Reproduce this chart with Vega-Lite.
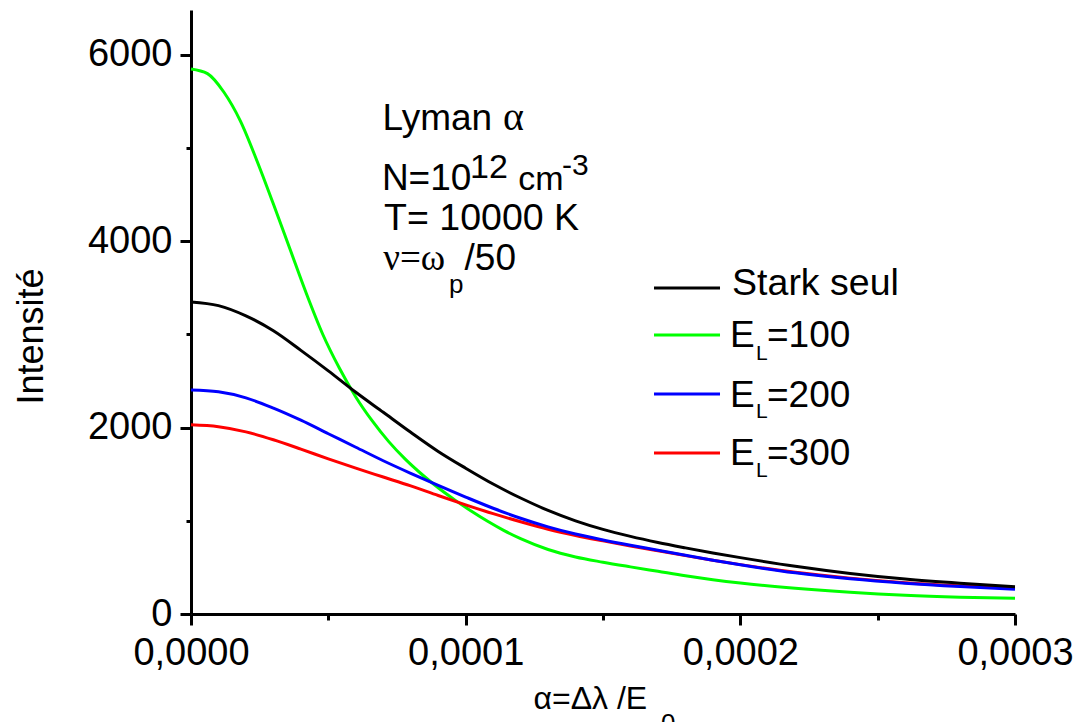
{
  "$schema": "https://vega.github.io/schema/vega-lite/v6.json",
  "width": 824,
  "height": 604,
  "autosize": {"type": "none"},
  "padding": {"left": 191, "top": 10, "right": 61, "bottom": 108},
  "background": "white",
  "config": {"view": {"stroke": null}, "font": "Liberation Sans", "text": {"font": "Liberation Sans", "color": "black"}},
  "datasets": {
    "curves": [
      {"s": "Stark seul", "x": 0.0, "y": 3350}, {"s": "Stark seul", "x": 0.00001, "y": 3310}, {"s": "Stark seul", "x": 0.00002, "y": 3200}, {"s": "Stark seul", "x": 0.00003, "y": 3040}, {"s": "Stark seul", "x": 0.00004, "y": 2830}, {"s": "Stark seul", "x": 0.00005, "y": 2610}, {"s": "Stark seul", "x": 0.00006, "y": 2380}, {"s": "Stark seul", "x": 0.00007, "y": 2165}, {"s": "Stark seul", "x": 0.00008, "y": 1950}, {"s": "Stark seul", "x": 0.00009, "y": 1745}, {"s": "Stark seul", "x": 0.0001, "y": 1565}, {"s": "Stark seul", "x": 0.00011, "y": 1395}, {"s": "Stark seul", "x": 0.00012, "y": 1245}, {"s": "Stark seul", "x": 0.00013, "y": 1112}, {"s": "Stark seul", "x": 0.00014, "y": 1000}, {"s": "Stark seul", "x": 0.00015, "y": 908}, {"s": "Stark seul", "x": 0.00016, "y": 833}, {"s": "Stark seul", "x": 0.00017, "y": 768}, {"s": "Stark seul", "x": 0.00018, "y": 710}, {"s": "Stark seul", "x": 0.00019, "y": 655}, {"s": "Stark seul", "x": 0.0002, "y": 605}, {"s": "Stark seul", "x": 0.00022, "y": 512}, {"s": "Stark seul", "x": 0.00024, "y": 435}, {"s": "Stark seul", "x": 0.00026, "y": 375}, {"s": "Stark seul", "x": 0.00028, "y": 330}, {"s": "Stark seul", "x": 0.0003, "y": 293},
      {"s": "EL=100", "x": 0.0, "y": 5850}, {"s": "EL=100", "x": 0.000006, "y": 5800}, {"s": "EL=100", "x": 0.000012, "y": 5600}, {"s": "EL=100", "x": 0.000018, "y": 5290}, {"s": "EL=100", "x": 0.000024, "y": 4865}, {"s": "EL=100", "x": 0.00003, "y": 4400}, {"s": "EL=100", "x": 0.000036, "y": 3920}, {"s": "EL=100", "x": 0.000042, "y": 3440}, {"s": "EL=100", "x": 0.000048, "y": 3000}, {"s": "EL=100", "x": 0.000054, "y": 2640}, {"s": "EL=100", "x": 0.00006, "y": 2330}, {"s": "EL=100", "x": 0.000066, "y": 2072}, {"s": "EL=100", "x": 0.000072, "y": 1850}, {"s": "EL=100", "x": 0.000078, "y": 1662}, {"s": "EL=100", "x": 0.000084, "y": 1500}, {"s": "EL=100", "x": 0.00009, "y": 1355}, {"s": "EL=100", "x": 0.000096, "y": 1225}, {"s": "EL=100", "x": 0.000102, "y": 1105}, {"s": "EL=100", "x": 0.000108, "y": 995}, {"s": "EL=100", "x": 0.000114, "y": 895}, {"s": "EL=100", "x": 0.00012, "y": 808}, {"s": "EL=100", "x": 0.00013, "y": 692}, {"s": "EL=100", "x": 0.00014, "y": 612}, {"s": "EL=100", "x": 0.00015, "y": 556}, {"s": "EL=100", "x": 0.00016, "y": 506}, {"s": "EL=100", "x": 0.00017, "y": 458}, {"s": "EL=100", "x": 0.00018, "y": 410}, {"s": "EL=100", "x": 0.00019, "y": 368}, {"s": "EL=100", "x": 0.0002, "y": 332}, {"s": "EL=100", "x": 0.00022, "y": 276}, {"s": "EL=100", "x": 0.00024, "y": 233}, {"s": "EL=100", "x": 0.00026, "y": 201}, {"s": "EL=100", "x": 0.00028, "y": 181}, {"s": "EL=100", "x": 0.0003, "y": 169},
      {"s": "EL=200", "x": 0.0, "y": 2405}, {"s": "EL=200", "x": 0.00001, "y": 2385}, {"s": "EL=200", "x": 0.00002, "y": 2320}, {"s": "EL=200", "x": 0.00003, "y": 2210}, {"s": "EL=200", "x": 0.00004, "y": 2080}, {"s": "EL=200", "x": 0.00005, "y": 1935}, {"s": "EL=200", "x": 0.00006, "y": 1790}, {"s": "EL=200", "x": 0.00007, "y": 1645}, {"s": "EL=200", "x": 0.00008, "y": 1510}, {"s": "EL=200", "x": 0.00009, "y": 1380}, {"s": "EL=200", "x": 0.0001, "y": 1255}, {"s": "EL=200", "x": 0.00011, "y": 1135}, {"s": "EL=200", "x": 0.00012, "y": 1028}, {"s": "EL=200", "x": 0.00013, "y": 935}, {"s": "EL=200", "x": 0.00014, "y": 858}, {"s": "EL=200", "x": 0.00015, "y": 795}, {"s": "EL=200", "x": 0.00016, "y": 738}, {"s": "EL=200", "x": 0.00017, "y": 685}, {"s": "EL=200", "x": 0.00018, "y": 630}, {"s": "EL=200", "x": 0.00019, "y": 577}, {"s": "EL=200", "x": 0.0002, "y": 528}, {"s": "EL=200", "x": 0.00022, "y": 442}, {"s": "EL=200", "x": 0.00024, "y": 378}, {"s": "EL=200", "x": 0.00026, "y": 330}, {"s": "EL=200", "x": 0.00028, "y": 294}, {"s": "EL=200", "x": 0.0003, "y": 265},
      {"s": "EL=300", "x": 0.0, "y": 2030}, {"s": "EL=300", "x": 0.00001, "y": 2010}, {"s": "EL=300", "x": 0.00002, "y": 1955}, {"s": "EL=300", "x": 0.00003, "y": 1870}, {"s": "EL=300", "x": 0.00004, "y": 1770}, {"s": "EL=300", "x": 0.00005, "y": 1665}, {"s": "EL=300", "x": 0.00006, "y": 1565}, {"s": "EL=300", "x": 0.00007, "y": 1470}, {"s": "EL=300", "x": 0.00008, "y": 1375}, {"s": "EL=300", "x": 0.00009, "y": 1272}, {"s": "EL=300", "x": 0.0001, "y": 1172}, {"s": "EL=300", "x": 0.00011, "y": 1077}, {"s": "EL=300", "x": 0.00012, "y": 990}, {"s": "EL=300", "x": 0.00013, "y": 910}, {"s": "EL=300", "x": 0.00014, "y": 843}, {"s": "EL=300", "x": 0.00015, "y": 785}, {"s": "EL=300", "x": 0.00016, "y": 730}, {"s": "EL=300", "x": 0.00017, "y": 678}, {"s": "EL=300", "x": 0.00018, "y": 627}, {"s": "EL=300", "x": 0.00019, "y": 577}, {"s": "EL=300", "x": 0.0002, "y": 530}, {"s": "EL=300", "x": 0.00022, "y": 447}, {"s": "EL=300", "x": 0.00024, "y": 385}, {"s": "EL=300", "x": 0.00026, "y": 336}, {"s": "EL=300", "x": 0.00028, "y": 302}, {"s": "EL=300", "x": 0.0003, "y": 275}
    ]
  },
  "layer": [
    {
      "data": {"name": "curves"},
      "transform": [{"filter": "datum.s == 'EL=100'"}],
      "mark": {"type": "line", "strokeWidth": 3, "interpolate": "monotone"},
      "encoding": {
        "x": {"field": "x", "type": "quantitative", "scale": {"domain": [0, 0.0003], "nice": false, "zero": false},
          "axis": {"values": [0, 0.00005, 0.0001, 0.00015, 0.0002, 0.00025, 0.0003],
            "labelExpr": "round(datum.value*100000) % 10 == 0 ? replace(format(datum.value, '.4f'), '.', ',') : ''",
            "grid": false, "domainColor": "black", "domainWidth": 3, "tickColor": "black", "tickWidth": 3,
            "tickSize": {"condition": {"test": "round(datum.value*100000) % 10 != 0", "value": 6}, "value": 11},
            "labelFont": "Liberation Sans", "labelFontSize": 38, "labelColor": "black", "labelPadding": 9,
            "labelFlush": false, "labelOverlap": false, "labelBound": false,
            "title": "α=Δλ /E", "titleFont": "Liberation Sans", "titleFontSize": 32, "titleFontWeight": "normal", "titleColor": "black",
            "titleAlign": "left", "titleBaseline": "alphabetic", "titleX": 342, "titleY": 94}},
        "y": {"field": "y", "type": "quantitative", "scale": {"domain": [0, 6483], "nice": false},
          "axis": {"values": [0, 1000, 2000, 3000, 4000, 5000, 6000],
            "labelExpr": "datum.value % 2000 == 0 ? '' + datum.value : ''",
            "grid": false, "domainColor": "black", "domainWidth": 3, "tickColor": "black", "tickWidth": 3,
            "tickSize": {"condition": {"test": "datum.value % 2000 != 0", "value": 5}, "value": 11},
            "labelFont": "Liberation Sans", "labelFontSize": 38, "labelColor": "black", "labelPadding": 8,
            "labelFlush": false, "labelOverlap": false, "labelBound": false,
            "title": "Intensité", "titleFont": "Liberation Sans", "titleFontSize": 36, "titleFontWeight": "normal", "titleColor": "black",
            "titleAngle": -90, "titleAlign": "center", "titleBaseline": "alphabetic", "titleX": -149, "titleY": 326}},
        "color": {"field": "s", "type": "nominal", "scale": {"domain": ["Stark seul", "EL=100", "EL=200", "EL=300"], "range": ["#000000", "#00ff00", "#0000ff", "#ff0000"]}, "legend": null}
      }
    },
    {
      "data": {"name": "curves"},
      "transform": [{"filter": "datum.s == 'EL=300'"}],
      "mark": {"type": "line", "strokeWidth": 3, "interpolate": "monotone"},
      "encoding": {"x": {"field": "x", "type": "quantitative"}, "y": {"field": "y", "type": "quantitative"}, "color": {"field": "s", "type": "nominal", "legend": null}}
    },
    {
      "data": {"name": "curves"},
      "transform": [{"filter": "datum.s == 'EL=200'"}],
      "mark": {"type": "line", "strokeWidth": 3, "interpolate": "monotone"},
      "encoding": {"x": {"field": "x", "type": "quantitative"}, "y": {"field": "y", "type": "quantitative"}, "color": {"field": "s", "type": "nominal", "legend": null}}
    },
    {
      "data": {"name": "curves"},
      "transform": [{"filter": "datum.s == 'Stark seul'"}],
      "mark": {"type": "line", "strokeWidth": 3, "interpolate": "monotone"},
      "encoding": {"x": {"field": "x", "type": "quantitative"}, "y": {"field": "y", "type": "quantitative"}, "color": {"field": "s", "type": "nominal", "legend": null}}
    },
    {"data": {"values": [{}]}, "mark": {"type": "rule", "strokeWidth": 3, "color": "#000000"}, "encoding": {"x": {"datum": 0.00016857, "type": "quantitative"}, "x2": {"datum": 0.0001926}, "y": {"datum": 3499, "type": "quantitative"}}},
    {"data": {"values": [{}]}, "mark": {"type": "rule", "strokeWidth": 3, "color": "#00ff00"}, "encoding": {"x": {"datum": 0.00016857, "type": "quantitative"}, "x2": {"datum": 0.0001926}, "y": {"datum": 2995, "type": "quantitative"}}},
    {"data": {"values": [{}]}, "mark": {"type": "rule", "strokeWidth": 3, "color": "#0000ff"}, "encoding": {"x": {"datum": 0.00016857, "type": "quantitative"}, "x2": {"datum": 0.0001926}, "y": {"datum": 2361, "type": "quantitative"}}},
    {"data": {"values": [{}]}, "mark": {"type": "rule", "strokeWidth": 3, "color": "#ff0000"}, "encoding": {"x": {"datum": 0.00016857, "type": "quantitative"}, "x2": {"datum": 0.0001926}, "y": {"datum": 1728, "type": "quantitative"}}},
    {"data": {"values": [{}]}, "mark": {"type": "text", "text": "Stark seul", "fontSize": 37.5, "align": "left", "baseline": "alphabetic"}, "encoding": {"x": {"datum": 0.000197, "type": "quantitative"}, "y": {"datum": 3424, "type": "quantitative"}}},
    {"data": {"values": [{}]}, "mark": {"type": "text", "text": "E", "fontSize": 37, "align": "left", "baseline": "alphabetic"}, "encoding": {"x": {"datum": 0.0001962, "type": "quantitative"}, "y": {"datum": 2866, "type": "quantitative"}}},
    {"data": {"values": [{}]}, "mark": {"type": "text", "text": "L", "fontSize": 21, "align": "left", "baseline": "alphabetic"}, "encoding": {"x": {"datum": 0.0002057, "type": "quantitative"}, "y": {"datum": 2726, "type": "quantitative"}}},
    {"data": {"values": [{}]}, "mark": {"type": "text", "text": "=100", "fontSize": 37, "align": "left", "baseline": "alphabetic"}, "encoding": {"x": {"datum": 0.0002097, "type": "quantitative"}, "y": {"datum": 2866, "type": "quantitative"}}},
    {"data": {"values": [{}]}, "mark": {"type": "text", "text": "E", "fontSize": 37, "align": "left", "baseline": "alphabetic"}, "encoding": {"x": {"datum": 0.0001962, "type": "quantitative"}, "y": {"datum": 2222, "type": "quantitative"}}},
    {"data": {"values": [{}]}, "mark": {"type": "text", "text": "L", "fontSize": 21, "align": "left", "baseline": "alphabetic"}, "encoding": {"x": {"datum": 0.0002057, "type": "quantitative"}, "y": {"datum": 2104, "type": "quantitative"}}},
    {"data": {"values": [{}]}, "mark": {"type": "text", "text": "=200", "fontSize": 37, "align": "left", "baseline": "alphabetic"}, "encoding": {"x": {"datum": 0.0002097, "type": "quantitative"}, "y": {"datum": 2222, "type": "quantitative"}}},
    {"data": {"values": [{}]}, "mark": {"type": "text", "text": "E", "fontSize": 37, "align": "left", "baseline": "alphabetic"}, "encoding": {"x": {"datum": 0.0001962, "type": "quantitative"}, "y": {"datum": 1599, "type": "quantitative"}}},
    {"data": {"values": [{}]}, "mark": {"type": "text", "text": "L", "fontSize": 21, "align": "left", "baseline": "alphabetic"}, "encoding": {"x": {"datum": 0.0002057, "type": "quantitative"}, "y": {"datum": 1470, "type": "quantitative"}}},
    {"data": {"values": [{}]}, "mark": {"type": "text", "text": "=300", "fontSize": 37, "align": "left", "baseline": "alphabetic"}, "encoding": {"x": {"datum": 0.0002097, "type": "quantitative"}, "y": {"datum": 1599, "type": "quantitative"}}},
    {"data": {"values": [{}]}, "mark": {"type": "text", "text": "Lyman", "fontSize": 37, "align": "left", "baseline": "alphabetic"}, "encoding": {"x": {"datum": 0.0000697, "type": "quantitative"}, "y": {"datum": 5195, "type": "quantitative"}}},
    {"data": {"values": [{}]}, "mark": {"type": "text", "text": "α", "font": "Liberation Serif", "fontSize": 40, "align": "left", "baseline": "alphabetic"}, "encoding": {"x": {"datum": 0.0001136, "type": "quantitative"}, "y": {"datum": 5195, "type": "quantitative"}}},
    {"data": {"values": [{}]}, "mark": {"type": "text", "text": "N=10", "fontSize": 37, "align": "left", "baseline": "alphabetic"}, "encoding": {"x": {"datum": 0.0000695, "type": "quantitative"}, "y": {"datum": 4551, "type": "quantitative"}}},
    {"data": {"values": [{}]}, "mark": {"type": "text", "text": "12", "fontSize": 34, "align": "left", "baseline": "alphabetic"}, "encoding": {"x": {"datum": 0.0001016, "type": "quantitative"}, "y": {"datum": 4680, "type": "quantitative"}}},
    {"data": {"values": [{}]}, "mark": {"type": "text", "text": "cm", "fontSize": 34, "align": "left", "baseline": "alphabetic"}, "encoding": {"x": {"datum": 0.0001191, "type": "quantitative"}, "y": {"datum": 4551, "type": "quantitative"}}},
    {"data": {"values": [{}]}, "mark": {"type": "text", "text": "-3", "fontSize": 30, "align": "left", "baseline": "alphabetic"}, "encoding": {"x": {"datum": 0.0001351, "type": "quantitative"}, "y": {"datum": 4712, "type": "quantitative"}}},
    {"data": {"values": [{}]}, "mark": {"type": "text", "text": "T= 10000 K", "fontSize": 37.5, "align": "left", "baseline": "alphabetic"}, "encoding": {"x": {"datum": 0.0000703, "type": "quantitative"}, "y": {"datum": 4121, "type": "quantitative"}}},
    {"data": {"values": [{}]}, "mark": {"type": "text", "text": "ν=ω", "font": "Liberation Serif", "fontSize": 37, "align": "left", "baseline": "alphabetic"}, "encoding": {"x": {"datum": 0.00007, "type": "quantitative"}, "y": {"datum": 3692, "type": "quantitative"}}},
    {"data": {"values": [{}]}, "mark": {"type": "text", "text": "p", "fontSize": 26, "align": "left", "baseline": "alphabetic"}, "encoding": {"x": {"datum": 0.0000939, "type": "quantitative"}, "y": {"datum": 3445, "type": "quantitative"}}},
    {"data": {"values": [{}]}, "mark": {"type": "text", "text": "/50", "fontSize": 37, "align": "left", "baseline": "alphabetic"}, "encoding": {"x": {"datum": 0.0000996, "type": "quantitative"}, "y": {"datum": 3692, "type": "quantitative"}}},
    {"data": {"values": [{}]}, "mark": {"type": "text", "text": "0", "fontSize": 26, "align": "left", "baseline": "alphabetic"}, "encoding": {"x": {"datum": 0.0001711, "type": "quantitative"}, "y": {"datum": -1266, "type": "quantitative"}}}
  ]
}
